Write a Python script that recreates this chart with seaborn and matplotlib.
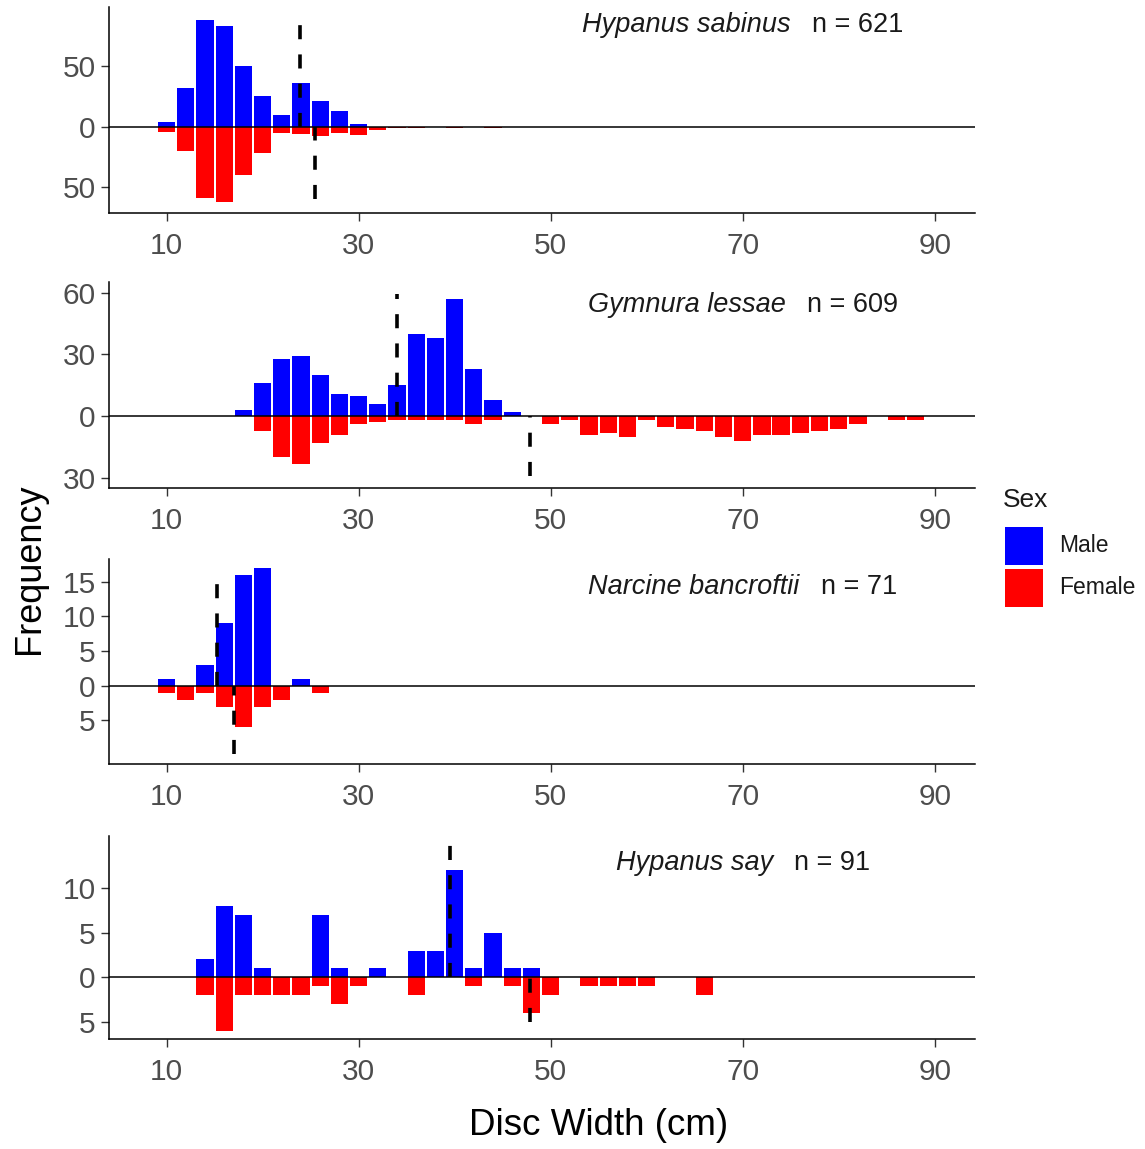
import numpy as np
import pandas as pd
import matplotlib
matplotlib.use("Agg")
import matplotlib.pyplot as plt
import seaborn as sns
from matplotlib.patches import Rectangle

# ---------------- data ----------------
species = ["Hypanus sabinus", "Gymnura lessae", "Narcine bancroftii", "Hypanus say"]
sample_n = [621, 609, 71, 91]

sabinus_bins = list(range(10, 46, 2))
sabinus_male = [4, 32, 88, 83, 50, 25, 10, 36, 21, 13, 2, 0, 0, 0, 0, 0, 0, 0]
sabinus_female = [4, 20, 59, 62, 40, 22, 5, 6, 8, 5, 7, 3, 1, 1, 0, 1, 0, 1]

lessae_bins = list(range(18, 90, 2))
lessae_male = [3, 16, 28, 29, 20, 11, 10, 6, 15, 40, 38, 57, 23, 8, 2,
               0, 0, 0, 0, 0, 0, 0, 0, 0, 0, 0, 0, 0, 0, 0, 0, 0, 0, 0, 0, 0]
lessae_female = [0, 7, 20, 23, 13, 9, 4, 3, 2, 2, 2, 2, 4, 2, 0, 0, 4, 2,
                 9, 8, 10, 2, 5, 6, 7, 10, 12, 9, 9, 8, 7, 6, 4, 0, 2, 2]

bancroftii_bins = list(range(10, 28, 2))
bancroftii_male = [1, 0, 3, 9, 16, 17, 0, 1, 0]
bancroftii_female = [1, 2, 1, 3, 6, 3, 2, 0, 1]

say_bins = list(range(14, 68, 2))
say_male = [2, 8, 7, 1, 0, 0, 7, 1, 0, 1, 0, 3, 3, 12, 1, 5, 1, 1,
            0, 0, 0, 0, 0, 0, 0, 0, 0]
say_female = [2, 6, 2, 2, 2, 2, 1, 3, 1, 0, 0, 2, 0, 0, 1, 0, 1, 4,
              2, 0, 1, 1, 1, 1, 0, 0, 2]

male_mean_x = [23.85, 34.0, 15.24, 39.55]
male_line_top = [87.6, 59.5, 15.4, 14.8]
female_mean_x = [25.45, 47.8, 17.0, 47.8]
female_line_bottom = [-59.8, -29.2, -9.85, -5.0]

y_ticks = [[-50, 0, 50], [-30, 0, 30, 60], [-5, 0, 5, 10, 15], [-5, 0, 5, 10]]
y_limits = [(-71.3, 98.9), (-34.8, 65.1), (-11.3, 18.3), (-6.92, 15.85)]
x_ticks = [10, 30, 50, 70, 90]
label_y = [78.3, 50.7, 13.2, 12.0]

sex_levels = ["Male", "Female"]

panels = [
    (sabinus_bins, sabinus_male, sabinus_female),
    (lessae_bins, lessae_male, lessae_female),
    (bancroftii_bins, bancroftii_male, bancroftii_female),
    (say_bins, say_male, say_female),
]

palette = {"Male": "#0000FF", "Female": "#FF0000"}

# ---------------- style ----------------
sns.set_style("ticks")
plt.rcParams["font.family"] = ["Liberation Sans", "DejaVu Sans"]

fig = plt.figure(figsize=(11.45, 11.49), dpi=100)

W, H = 1145.0, 1149.0
left_px, right_px = 109, 975
panel_px = [(7, 213), (282, 488), (559, 764), (836, 1039)]

texts = []
for i, (bins, male, female) in enumerate(panels):
    top, bot = panel_px[i]
    ax = fig.add_axes([left_px / W, 1 - bot / H, (right_px - left_px) / W, (bot - top) / H])
    df = pd.DataFrame({
        "bin": list(bins) + list(bins),
        "count": list(male) + [-v for v in female],
        "Sex": ["Male"] * len(bins) + ["Female"] * len(bins),
    })
    sns.barplot(data=df, x="bin", y="count", hue="Sex", palette=palette,
                native_scale=True, dodge=False, errorbar=None, saturation=1,
                width=0.9, linewidth=0, legend=False, ax=ax)
    ax.axhline(0, color="black", lw=1.1, zorder=5)
    ax.plot([male_mean_x[i]] * 2, [0, male_line_top[i]], color="black",
            lw=2.6, dashes=(3.9, 4.2), dash_capstyle="butt", zorder=6)
    ax.plot([female_mean_x[i]] * 2, [female_line_bottom[i], 0], color="black",
            lw=2.6, dashes=(3.9, 4.2), dash_capstyle="butt", zorder=6)

    ax.set_xlim(4, 94.2)
    ax.set_ylim(*y_limits[i])
    ax.set_xticks(x_ticks)
    ax.set_xticklabels([str(t) for t in x_ticks])
    ax.set_yticks(y_ticks[i])
    ax.set_yticklabels([str(abs(t)) for t in y_ticks[i]])
    ax.set_xlabel("")
    ax.set_ylabel("")
    sns.despine(ax=ax)
    for s in ["left", "bottom"]:
        ax.spines[s].set_color("black")
        ax.spines[s].set_linewidth(1.1)
    ax.tick_params(axis="both", length=5.5, width=1.0, color="#333333",
                   labelsize=21.5, labelcolor="#4D4D4D")
    ax.tick_params(axis="x", pad=8)
    ax.tick_params(axis="y", pad=4)

    t1 = ax.text(55, label_y[i], species[i], style="italic", fontsize=19.5,
                 color="#1a1a1a", ha="left", va="baseline")
    t2 = ax.annotate(f"n = {sample_n[i]}", xy=(1, 0), xycoords=t1,
                     xytext=(15, 0), textcoords="offset points",
                     fontsize=19.5, color="#1a1a1a", ha="left", va="bottom")
    texts.append((ax, t1, t2))

# center species/n annotation on x = 70
fig.canvas.draw()
r = fig.canvas.get_renderer()
for ax, t1, t2 in texts:
    bb1 = t1.get_window_extent(r)
    bb2 = t2.get_window_extent(r)
    total = bb2.x1 - bb1.x0
    cx = ax.transData.transform((70, 0))[0]
    x0 = cx - total / 2
    xd = ax.transData.inverted().transform((x0, 0))[0]
    t1.set_x(xd)

fig.text(30 / W, 1 - 569 / H, "Frequency", rotation=90, fontsize=26,
         ha="center", va="center", color="black")
fig.text(599 / W, 1 - 1135 / H, "Disc Width (cm)", fontsize=26.5,
         ha="center", va="baseline", color="black")

# legend (Sex)
fig.text(1003 / W, 1 - 507 / H, "Sex", fontsize=19, ha="left", va="baseline",
         color="#1a1a1a")
key_tops = [527, 569]
for lvl, kt in zip(sex_levels, key_tops):
    fig.patches.append(Rectangle((1005 / W, 1 - (kt + 38) / H), 38 / W, 38 / H,
                                 transform=fig.transFigure, facecolor=palette[lvl],
                                 edgecolor="none"))
    fig.text(1059 / W, 1 - (kt + 19) / H, lvl, fontsize=16.5, ha="left",
             va="center", color="#1a1a1a")

fig.savefig("out.png", dpi=100)
